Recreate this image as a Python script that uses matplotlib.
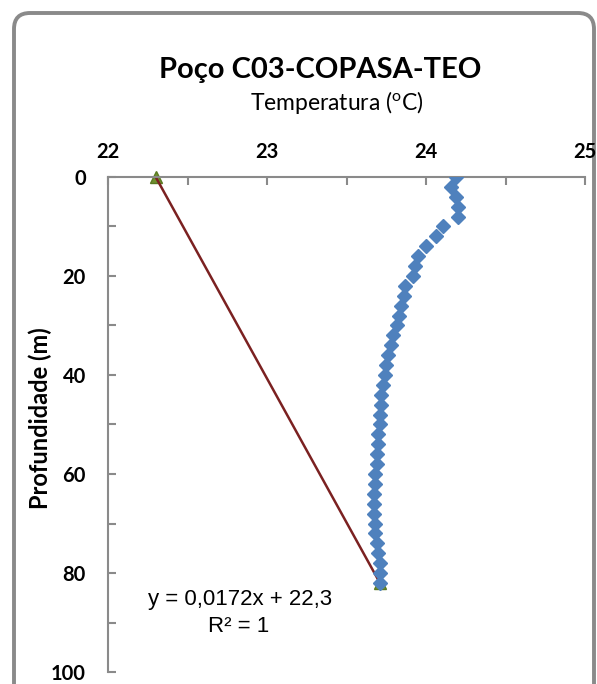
import numpy as np
import matplotlib
matplotlib.use("Agg")
import matplotlib.pyplot as plt
from matplotlib.patches import FancyBboxPatch
from matplotlib.transforms import IdentityTransform

# Perfil de temperatura medido no poço (profundidade em m, temperatura em oC)
profundidade = [0, 2, 4, 6, 8, 10, 12, 14, 16, 18, 20, 22, 24, 26, 28, 30, 32, 34,
                36, 38, 40, 42, 44, 46, 48, 50, 52, 54, 56, 58, 60, 62, 64, 66, 68,
                70, 72, 74, 76, 78, 80, 82]
temperatura = [24.19, 24.16, 24.19, 24.20, 24.20, 24.11, 24.06, 24.00, 23.95, 23.93,
               23.92, 23.87, 23.86, 23.84, 23.83, 23.82, 23.79, 23.78, 23.76, 23.75,
               23.74, 23.73, 23.72, 23.72, 23.71, 23.71, 23.70, 23.70, 23.69, 23.69,
               23.68, 23.68, 23.67, 23.67, 23.67, 23.68, 23.68, 23.69, 23.70, 23.71,
               23.71, 23.71]

# Pontos extremos usados no ajuste linear (triangulos)
prof_ajuste = [0, 82]
temp_ajuste = [22.3, 23.71]

x_ticks = [22, 23, 24, 25]
y_ticks = [0, 20, 40, 60, 80, 100]

fonte = "Lato"

fig = plt.figure(figsize=(5.97, 6.84), dpi=100)

# Moldura arredondada do grafico (estilo Excel)
moldura = FancyBboxPatch((14, -30), 580, 684 - 13 + 30,
                         boxstyle="round,pad=0,rounding_size=16",
                         transform=IdentityTransform(), facecolor="none",
                         edgecolor="#8a8a8a", linewidth=2.8, zorder=-1)
fig.add_artist(moldura)

ax = fig.add_axes([108 / 597, 1 - 672 / 684, 477 / 597, 495 / 684])
ax.patch.set_alpha(0)

# Linha de tendencia
coef = np.polyfit(prof_ajuste, temp_ajuste, 1)
p = np.linspace(min(prof_ajuste), max(prof_ajuste), 50)
ax.plot(np.polyval(coef, p), p, color="#7B2121", linewidth=1.8, zorder=2)

ax.plot(temperatura, profundidade, linestyle="none", marker="D", markersize=7.3,
        color="#4F81BD", markeredgecolor="#4F81BD", zorder=3)
ax.plot(temp_ajuste, prof_ajuste, linestyle="none", marker="^", markersize=9,
        color="#6E8F2E", markeredgecolor="#5A7A22", zorder=1, clip_on=False)

ax.set_xlim(22, 25)
ax.set_ylim(100, 0)
ax.xaxis.tick_top()
ax.set_xticks(x_ticks)
ax.set_xticks(np.arange(22, 25.01, 0.5), minor=True)
ax.set_yticks(y_ticks)
ax.set_yticks(np.arange(0, 101, 10), minor=True)
ax.set_xticklabels([str(v) for v in x_ticks], fontsize=14.5, fontweight="bold", family=fonte)
ax.set_yticklabels([str(v) for v in y_ticks], fontsize=14.5, fontweight="bold", family=fonte)

for eixo in ("bottom", "right"):
    ax.spines[eixo].set_visible(False)
for eixo in ("top", "left"):
    ax.spines[eixo].set_color("#8a8a8a")
    ax.spines[eixo].set_linewidth(1.5)

ax.tick_params(axis="x", which="both", direction="in", length=6, width=1.5,
               color="#8a8a8a", pad=11)
ax.tick_params(axis="y", which="both", direction="in", length=6, width=1.5,
               color="#8a8a8a", pad=16)

ax.set_ylabel("Profundidade (m)", fontsize=17, fontweight="bold", family=fonte)
ax.yaxis.set_label_coords(-56 / 477, (672 - 418) / 495)

fig.text(320 / 597, 1 - 78 / 684, "Poço C03-COPASA-TEO", ha="center", va="baseline",
         fontsize=21, fontweight="bold", family=fonte)
fig.text(337 / 597, 1 - 110 / 684, r"Temperatura ($\mathregular{^o}$C)", ha="center",
         va="baseline", fontsize=16.5, family=fonte)

# Equacao da reta de ajuste
fig.text(240 / 597, 1 - 600 / 684, "y = 0,0172x + 22,3", ha="center", va="center",
         fontsize=16, family="Liberation Sans")
fig.text(239 / 597, 1 - 627 / 684, "R² = 1", ha="center", va="center",
         fontsize=16, family="Liberation Sans")

fig.savefig("out.png", dpi=100)
